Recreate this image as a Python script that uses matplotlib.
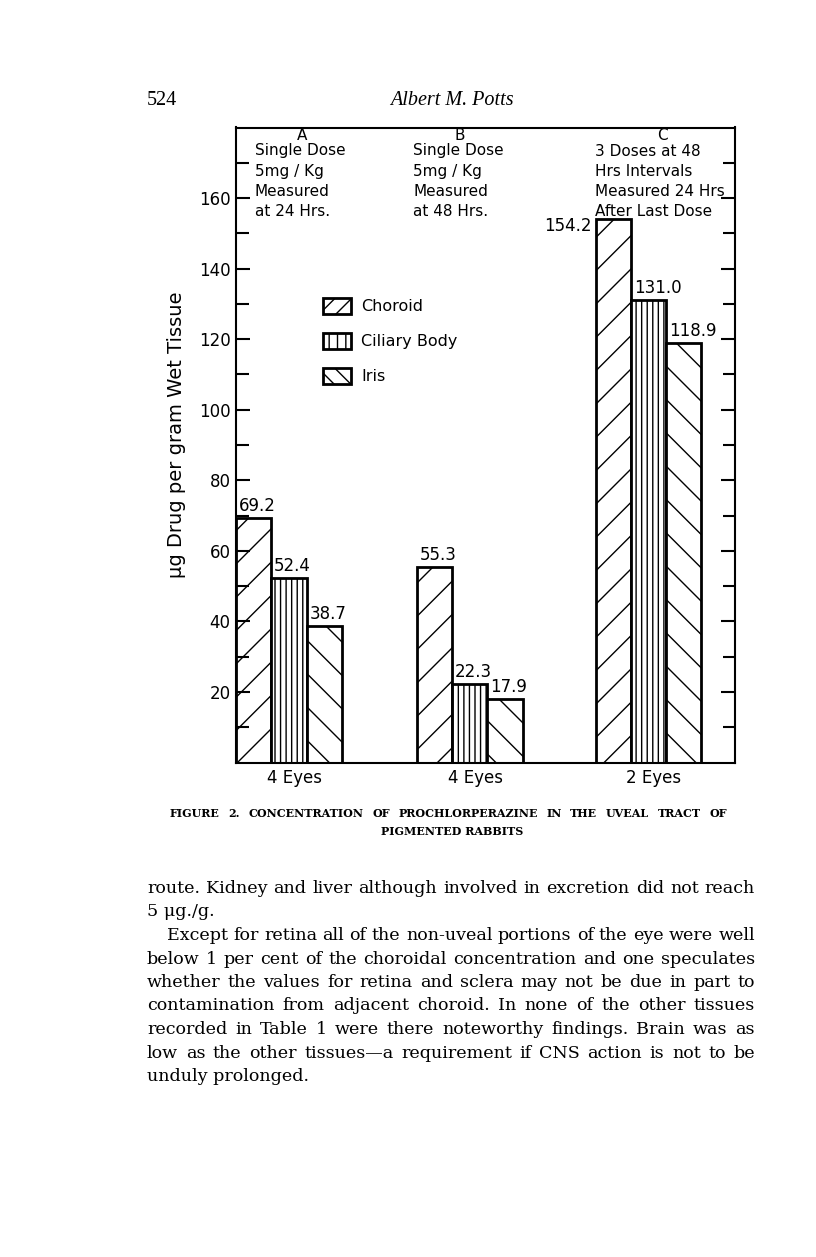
import matplotlib
matplotlib.use("Agg")
import matplotlib.pyplot as plt
from matplotlib.patches import Patch
import numpy as np

# values
group_labels = ["4 Eyes", "4 Eyes", "2 Eyes"]
group_letters = ["A", "B", "C"]
group_notes = [
    ["Single Dose", "5mg / Kg", "Measured", "at 24 Hrs."],
    ["Single Dose", "5mg / Kg", "Measured", "at 48 Hrs."],
    ["3 Doses at 48", "Hrs Intervals", "Measured 24 Hrs", "After Last Dose"],
]
tissues = ["Choroid", "Ciliary Body", "Iris"]
choroid = [69.2, 55.3, 154.2]
ciliary = [52.4, 22.3, 131.0]
iris = [38.7, 17.9, 118.9]

header_page = "524"
header_author = "Albert M. Potts"
caption = ["FIGURE 2. CONCENTRATION OF PROCHLORPERAZINE IN THE UVEAL TRACT OF",
           "PIGMENTED RABBITS"]
body = [
    "route. Kidney and liver although involved in excretion did not reach",
    "5 \u03bcg./g.",
    "Except for retina all of the non-uveal portions of the eye were well",
    "below 1 per cent of the choroidal concentration and one speculates",
    "whether the values for retina and sclera may not be due in part to",
    "contamination from adjacent choroid. In none of the other tissues",
    "recorded in Table 1 were there noteworthy findings. Brain was as",
    "low as the other tissues\u2014a requirement if CNS action is not to be",
    "unduly prolonged.",
]
body_justified = [True, False, True, True, True, True, True, True, False]
body_indent = [0, 0, 20, 0, 0, 0, 0, 0, 0]

plt.rcParams["font.family"] = "DejaVu Sans"
plt.rcParams["hatch.linewidth"] = 1.0

W, H = 816, 1257
fig = plt.figure(figsize=(W / 100, H / 100), dpi=100)
fig.patch.set_facecolor("white")


def fx(x):
    return x / W


def fy(y):
    return 1 - y / H


ax = fig.add_axes([fx(236), fy(762.5), 499 / W, 635 / H])

group_left = np.array([0.0, 5.13, 10.2])
hatches = ["/", "|||", "\\"]
series = [choroid, ciliary, iris]
for i, (vals, h) in enumerate(zip(series, hatches)):
    ax.bar(group_left + i + 0.5, vals, width=1.0, color="white",
           edgecolor="black", linewidth=2, hatch=h)
    for g, v in enumerate(vals):
        left = group_left[g] + i
        if v > 150:
            ax.annotate(f"{v:.1f}", (left, v), xytext=(-3, 1),
                        textcoords="offset points", ha="right", va="top",
                        fontsize=12)
        else:
            ax.annotate(f"{v:.1f}", (left, v), xytext=(2, 5),
                        textcoords="offset points", ha="left", va="baseline",
                        fontsize=12)

ax.set_xlim(0, 14.15)
ax.set_ylim(0, 180)
ax.set_yticks(np.arange(20, 161, 20))
ax.set_yticks(np.arange(10, 171, 20), minor=True)
ax.tick_params(axis="y", which="both", direction="in", left=True, right=True,
               width=1.5, labelsize=12, pad=4)
ax.tick_params(axis="y", which="major", length=10)
ax.tick_params(axis="y", which="minor", length=9)
ax.set_xticks(group_left + 1.5 + 0.15)
ax.set_xticklabels(group_labels)
ax.tick_params(axis="x", length=0, pad=5, labelsize=12)
for s in ax.spines.values():
    s.set_linewidth(1.5)

ax.set_ylabel("\u03bcg Drug per gram Wet Tissue", fontsize=14)
ax.yaxis.set_label_coords(-0.10, 0.516)

# header notes inside the frame
letter_x = [0.132, 0.449, 0.854]
note_x = [0.038, 0.355, 0.719]
for g in range(3):
    ax.text(letter_x[g], 0.988, group_letters[g], transform=ax.transAxes,
            ha="center", va="center", fontsize=11)
    for k, line in enumerate(group_notes[g]):
        ypix = 151 + k * 20.3
        ax.text(note_x[g], (762.5 - ypix) / 635, line, transform=ax.transAxes,
                ha="left", va="center", fontsize=11)

handles = [Patch(facecolor="white", edgecolor="black", linewidth=2, hatch=h, label=t)
           for h, t in zip(["//", "||", "\\\\"], tissues)]
ax.legend(handles=handles, loc="upper left", bbox_to_anchor=(0.1737, 0.732),
          frameon=False, fontsize=11.5, handlelength=1.8, handleheight=1.2,
          handletextpad=0.6, labelspacing=1.15, borderpad=0, borderaxespad=0)

# page text
renderer = fig.canvas.get_renderer()


def put_line(text, y, x0, x1, size, justify=True, **kw):
    if not justify:
        fig.text(fx(x0), fy(y), text, fontsize=size, va="baseline", **kw)
        return
    words = text.split()
    arts = [fig.text(0, fy(y), w, fontsize=size, va="baseline", **kw) for w in words]
    widths = [a.get_window_extent(renderer).width for a in arts]
    gap = (x1 - x0 - sum(widths)) / (len(words) - 1)
    x = x0
    for a, w in zip(arts, widths):
        a.set_x(fx(x))
        x += w + gap


head_font = "Liberation Serif"
text_font = "DejaVu Serif"
fig.text(fx(147), fy(105), header_page, fontsize=14.5, family=head_font, va="baseline")
fig.text(fx(452), fy(105), header_author, fontsize=14.5, family=head_font,
         style="italic", ha="center", va="baseline")

put_line(caption[0], 817, 170, 727, 8, family=text_font, weight="bold")
fig.text(fx(452), fy(835), caption[1], fontsize=8, family=text_font,
         weight="bold", ha="center", va="baseline")

for k, line in enumerate(body):
    put_line(line, 893 + k * 23.5, 147 + body_indent[k], 755, 12.6,
             justify=body_justified[k], family=text_font)

fig.savefig("out.png", dpi=100, facecolor="white")
